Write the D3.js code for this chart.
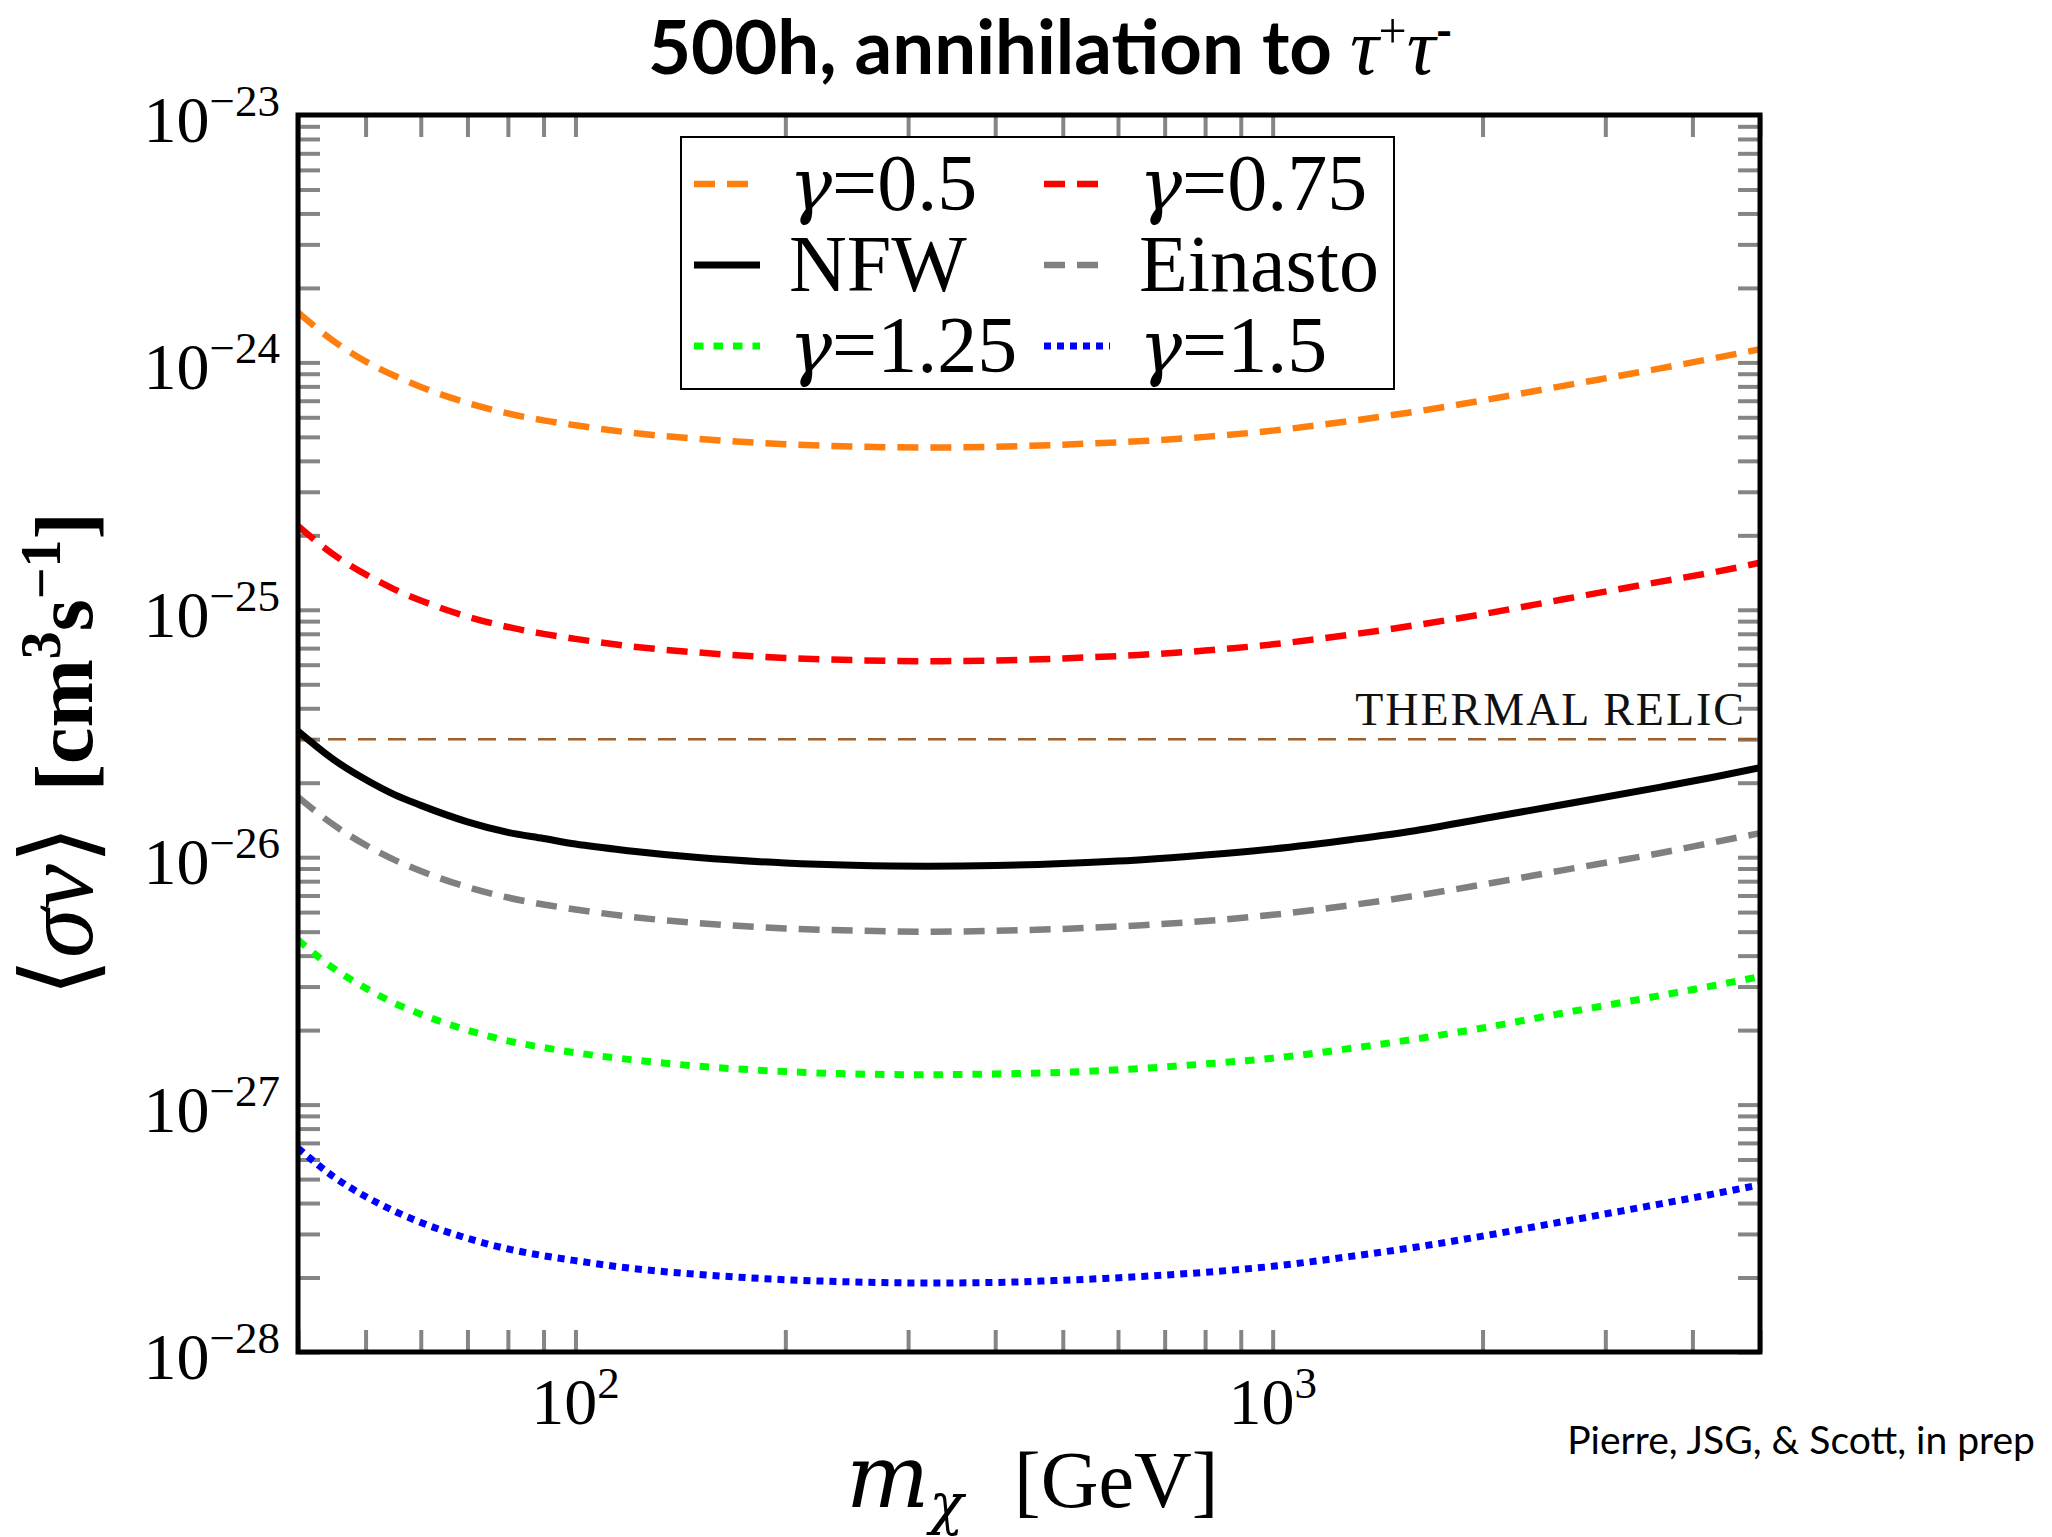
<!DOCTYPE html>
<html><head><meta charset="utf-8">
<script src="https://cdn.jsdelivr.net/npm/d3@7"></script>
<style>
html,body{margin:0;padding:0;background:#fff;}
svg{display:block;}
</style></head>
<body>
<svg id="chart" width="2052" height="1537"></svg>
<script>
// ---------- data ----------
const masses = [40, 45, 50, 55, 60, 70, 80, 90, 100, 120, 150, 200, 250, 320, 400, 500, 650, 800, 1000, 1300, 1600, 2000, 2600, 3600, 4300, 5000];

const gamma050 = [1.59e-24, 1.22e-24, 1.01e-24, 8.83e-25, 7.96e-25, 6.86e-25, 6.22e-25, 5.83e-25, 5.57e-25, 5.20e-25, 4.91e-25, 4.67e-25, 4.57e-25, 4.53e-25, 4.56e-25, 4.65e-25, 4.81e-25, 5.00e-25, 5.30e-25, 5.81e-25, 6.32e-25, 7.02e-25, 8.02e-25, 9.46e-25, 1.04e-24, 1.13e-24];
const gamma075 = [2.18e-25, 1.67e-25, 1.39e-25, 1.21e-25, 1.09e-25, 9.39e-26, 8.52e-26, 7.99e-26, 7.63e-26, 7.12e-26, 6.72e-26, 6.39e-26, 6.26e-26, 6.20e-26, 6.24e-26, 6.36e-26, 6.58e-26, 6.84e-26, 7.25e-26, 7.95e-26, 8.66e-26, 9.60e-26, 1.10e-25, 1.30e-25, 1.42e-25, 1.55e-25];
const nfw = [3.23e-26, 2.48e-26, 2.06e-26, 1.79e-26, 1.62e-26, 1.39e-26, 1.26e-26, 1.19e-26, 1.13e-26, 1.06e-26, 9.97e-27, 9.48e-27, 9.28e-27, 9.20e-27, 9.26e-27, 9.44e-27, 9.77e-27, 1.02e-26, 1.08e-26, 1.18e-26, 1.28e-26, 1.43e-26, 1.63e-26, 1.92e-26, 2.11e-26, 2.30e-26];
const einasto = [1.75e-26, 1.35e-26, 1.12e-26, 9.75e-27, 8.79e-27, 7.57e-27, 6.87e-27, 6.44e-27, 6.15e-27, 5.74e-27, 5.42e-27, 5.15e-27, 5.05e-27, 5.00e-27, 5.04e-27, 5.13e-27, 5.31e-27, 5.52e-27, 5.85e-27, 6.41e-27, 6.98e-27, 7.75e-27, 8.85e-27, 1.04e-26, 1.15e-26, 1.25e-26];
const gamma125 = [4.63e-27, 3.55e-27, 2.96e-27, 2.57e-27, 2.32e-27, 2.00e-27, 1.81e-27, 1.70e-27, 1.62e-27, 1.52e-27, 1.43e-27, 1.36e-27, 1.33e-27, 1.32e-27, 1.33e-27, 1.35e-27, 1.40e-27, 1.46e-27, 1.54e-27, 1.69e-27, 1.84e-27, 2.04e-27, 2.34e-27, 2.76e-27, 3.03e-27, 3.29e-27];
const gamma150 = [6.67e-28, 5.11e-28, 4.25e-28, 3.71e-28, 3.34e-28, 2.88e-28, 2.61e-28, 2.45e-28, 2.34e-28, 2.18e-28, 2.06e-28, 1.96e-28, 1.92e-28, 1.90e-28, 1.91e-28, 1.95e-28, 2.02e-28, 2.10e-28, 2.22e-28, 2.44e-28, 2.65e-28, 2.94e-28, 3.36e-28, 3.97e-28, 4.36e-28, 4.74e-28];

const thermalRelic = 3e-26;
const seriesNames = ["γ=0.5", "γ=0.75", "NFW", "Einasto", "γ=1.25", "γ=1.5"];
const xTickLabels = [{v: 100, exp: "2"}, {v: 1000, exp: "3"}];
const yTickLabels = [{v: 1e-23, exp: "−23"}, {v: 1e-24, exp: "−24"}, {v: 1e-25, exp: "−25"}, {v: 1e-26, exp: "−26"}, {v: 1e-27, exp: "−27"}, {v: 1e-28, exp: "−28"}];
const titleText = "500h, annihilation to ";
const footerText = "Pierre, JSG, & Scott, in prep";

// ---------- styles ----------
const styles = [
  {data: gamma050, color: "#ff7f0e", dash: "21 12", width: 6.5},
  {data: gamma075, color: "#ff0000", dash: "21 12", width: 6.5},
  {data: nfw,      color: "#000000", dash: null,    width: 7},
  {data: einasto,  color: "#808080", dash: "21 12", width: 6.5},
  {data: gamma125, color: "#00ff00", dash: "9.5 10", width: 7},
  {data: gamma150, color: "#0000ff", dash: "7 6",   width: 7}
];
const serif = "'Liberation Serif', 'DejaVu Serif', serif";
const mathItal = "'DejaVu Serif', 'Liberation Serif', serif";
const sans = "Lato, 'Open Sans', sans-serif";

const svg = d3.select("#chart");
const M = {left: 298, right: 1760, top: 115, bottom: 1352};
const x = d3.scaleLog().domain([40, 5000]).range([M.left, M.right]);
const y = d3.scaleLog().domain([1e-28, 1e-23]).range([M.bottom, M.top]);

svg.append("rect").attr("width", 2052).attr("height", 1537).attr("fill", "#fff");

svg.append("defs").append("clipPath").attr("id", "clip")
  .append("rect").attr("x", M.left).attr("y", M.top)
  .attr("width", M.right - M.left).attr("height", M.bottom - M.top);

function fitWidth(sel, target) {
  const w = sel.node().getComputedTextLength();
  const fs = parseFloat(sel.attr("font-size"));
  if (w > 0) sel.attr("font-size", fs * target / w);
}

// ---------- ticks (inward, grey, all four sides) ----------
const tickLen = 22;
function styleAxis(g) {
  g.select(".domain").remove();
  g.selectAll(".tick line").attr("stroke", "#858585").attr("stroke-width", 4);
  g.selectAll(".tick text").remove();
}
const xt = x.ticks();
const yt = y.ticks();
svg.append("g").attr("transform", `translate(0,${M.bottom})`)
  .call(d3.axisBottom(x).tickValues(xt).tickSize(-tickLen).tickFormat("")).call(styleAxis);
svg.append("g").attr("transform", `translate(0,${M.top})`)
  .call(d3.axisTop(x).tickValues(xt).tickSize(-tickLen).tickFormat("")).call(styleAxis);
svg.append("g").attr("transform", `translate(${M.left},0)`)
  .call(d3.axisLeft(y).tickValues(yt).tickSize(-tickLen).tickFormat("")).call(styleAxis);
svg.append("g").attr("transform", `translate(${M.right},0)`)
  .call(d3.axisRight(y).tickValues(yt).tickSize(-tickLen).tickFormat("")).call(styleAxis);

// ---------- thermal relic ----------
const plot = svg.append("g").attr("clip-path", "url(#clip)");
plot.append("line")
  .attr("x1", M.left).attr("x2", M.right)
  .attr("y1", y(thermalRelic)).attr("y2", y(thermalRelic))
  .attr("stroke", "#9c5f2a").attr("stroke-width", 2.5).attr("stroke-dasharray", "18 12");

// ---------- curves ----------
const line = d3.line().x(d => x(d[0])).y(d => y(d[1])).curve(d3.curveMonotoneX);
styles.forEach(s => {
  plot.append("path")
    .datum(masses.map((mm, i) => [mm, s.data[i]]))
    .attr("d", line)
    .attr("fill", "none")
    .attr("stroke", s.color)
    .attr("stroke-width", s.width)
    .attr("stroke-dasharray", s.dash)
    .attr("stroke-linecap", "butt")
    .attr("stroke-linejoin", "round");
});

// thermal relic label
const tr = svg.append("text").attr("x", 1746).attr("y", 725).attr("text-anchor", "end")
  .attr("font-family", serif).attr("font-size", 44).attr("letter-spacing", 2)
  .attr("fill", "#111").text("THERMAL RELIC");
fitWidth(tr, 392);

// ---------- frame ----------
svg.append("rect").attr("x", M.left).attr("y", M.top)
  .attr("width", M.right - M.left).attr("height", M.bottom - M.top)
  .attr("fill", "none").attr("stroke", "#000").attr("stroke-width", 5);

// ---------- tick labels ----------
yTickLabels.forEach(t => {
  const tx = svg.append("text").attr("x", 280).attr("y", y(t.v) + 27)
    .attr("text-anchor", "end").attr("font-family", serif).attr("font-size", 66).attr("fill", "#000");
  tx.append("tspan").text("10");
  tx.append("tspan").attr("font-size", 45).attr("dy", -26).text(t.exp);
});
xTickLabels.forEach(t => {
  const tx = svg.append("text").attr("x", x(t.v)).attr("y", 1424)
    .attr("text-anchor", "middle").attr("font-family", serif).attr("font-size", 66).attr("fill", "#000");
  tx.append("tspan").text("10");
  tx.append("tspan").attr("font-size", 45).attr("dy", -26).text(t.exp);
});

// ---------- axis titles ----------
const xl = svg.append("text").attr("x", 846).attr("y", 1507)
  .attr("font-family", serif).attr("font-size", 80).attr("fill", "#000");
xl.append("tspan").attr("font-family", mathItal).attr("font-style", "italic").attr("font-size", 88).text("m");
xl.append("tspan").attr("font-family", mathItal).attr("font-style", "italic").attr("font-size", 56).attr("dy", 16).text("χ");
xl.append("tspan").attr("x", 1014).attr("dy", -16).text("[GeV]");

const yl = svg.append("text").attr("transform", "translate(92,997) rotate(-90)")
  .attr("font-family", serif).attr("font-size", 82).attr("fill", "#000");
yl.append("tspan").attr("font-size", 100).text("⟨");
yl.append("tspan").attr("font-style", "italic").attr("font-size", 100).text("σv");
yl.append("tspan").attr("font-size", 100).text("⟩");
yl.append("tspan").attr("dx", 34).attr("font-weight", "bold").text("[cm");
yl.append("tspan").attr("font-weight", "bold").attr("font-size", 56).attr("dy", -32).text("3");
yl.append("tspan").attr("font-weight", "bold").attr("dy", 32).text("s");
yl.append("tspan").attr("font-weight", "bold").attr("font-size", 56).attr("dy", -32).text("−1");
yl.append("tspan").attr("font-weight", "bold").attr("dy", 32).text("]");

// ---------- title ----------
const title = svg.append("text").attr("x", 648).attr("y", 74)
  .attr("font-family", sans).attr("font-weight", 700).attr("font-size", 66).attr("fill", "#000");
const tMain = title.append("tspan").text(titleText);
{
  const w = tMain.node().getComputedTextLength();
  title.attr("font-size", 66 * 684 / w);
}
title.append("tspan").attr("font-family", serif).attr("font-weight", 400).attr("font-style", "italic").attr("font-size", 80).text("τ");
title.append("tspan").attr("font-family", serif).attr("font-weight", 400).attr("font-size", 50).attr("dy", -26).text("+");
title.append("tspan").attr("font-family", serif).attr("font-weight", 400).attr("font-style", "italic").attr("font-size", 80).attr("dy", 26).text("τ");
title.append("tspan").attr("font-family", sans).attr("font-size", 46).attr("dy", -26).text("-");

// ---------- footer ----------
const foot = svg.append("text").attr("x", 2035).attr("y", 1454).attr("text-anchor", "end")
  .attr("font-family", sans).attr("font-size", 38).attr("fill", "#000").text(footerText);
fitWidth(foot, 468);

// ---------- legend ----------
const lg = svg.append("g");
lg.append("rect").attr("x", 681).attr("y", 137).attr("width", 713).attr("height", 252)
  .attr("fill", "#fff").attr("stroke", "#000").attr("stroke-width", 2);
const colX = [694, 1044];
const txtX = [789, 1139];
const rowY = [184, 265, 346];
styles.forEach((s, i) => {
  const c = i % 2, r = Math.floor(i / 2);
  lg.append("line").attr("x1", colX[c]).attr("x2", colX[c] + 66)
    .attr("y1", rowY[r]).attr("y2", rowY[r])
    .attr("stroke", s.color).attr("stroke-width", s.width).attr("stroke-dasharray", s.dash);
  const t = lg.append("text").attr("x", txtX[c]).attr("y", rowY[r] + 26)
    .attr("font-family", serif).attr("font-size", 80).attr("fill", "#000");
  const name = seriesNames[i];
  if (name.startsWith("γ")) {
    t.append("tspan").attr("font-family", mathItal).attr("font-style", "italic").attr("font-size", 72).text("γ");
    t.append("tspan").text(name.slice(1));
  } else {
    t.text(name);
  }
});
</script>
</body></html>
